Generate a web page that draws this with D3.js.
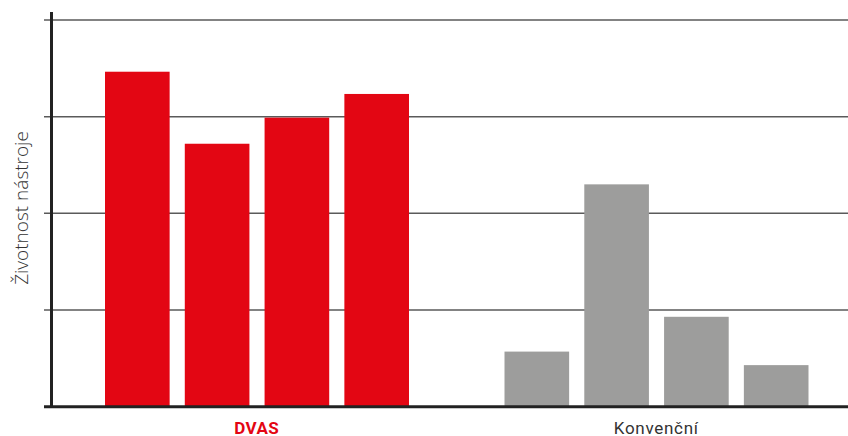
<!DOCTYPE html>
<html><head><meta charset="utf-8">
<script src="https://cdn.jsdelivr.net/npm/d3@7"></script>
<style>body{margin:0;background:#fff}svg{display:block}</style>
</head><body>
<svg id="c" width="848" height="436"></svg>
<script>
const groups = ["DVAS", "Konvenční"];
const dvasValues = [3.465, 2.72, 2.99, 3.235];
const convValues = [0.57, 2.30, 0.93, 0.43];
const yTicks = [0, 1, 2, 3, 4];
const yLabel = "Životnost nástroje";
const colors = {"DVAS": "#e30613", "Konvenční": "#9d9d9c"};
const series = {"DVAS": dvasValues, "Konvenční": convValues};

const svg = d3.select("#c");
const y = d3.scaleLinear().domain([0, 4]).range([406.7, 20]);
const x0 = d3.scaleBand().domain(groups).range([57.5, 856.5]);
const x1 = d3.scaleBand().domain([0,1,2,3]).range([47.5, 351.5]).paddingInner(0.19);

// gridlines
svg.append("g").selectAll("line").data(yTicks.filter(t => t > 0)).join("line")
  .attr("x1", 44).attr("x2", 848)
  .attr("y1", d => y(d)).attr("y2", d => y(d))
  .attr("stroke", "#5a5a5a").attr("stroke-width", 1.5);

// bars
groups.forEach(g => {
  svg.append("g").selectAll("rect").data(series[g]).join("rect")
    .attr("x", (d, i) => x0(g) + x1(i))
    .attr("width", x1.bandwidth())
    .attr("y", d => y(d))
    .attr("height", d => y(0) - y(d))
    .attr("fill", colors[g]);
});

// axes
svg.append("line").attr("x1", 51.5).attr("x2", 51.5).attr("y1", 12).attr("y2", 408)
  .attr("stroke", "#222").attr("stroke-width", 3);
svg.append("line").attr("x1", 44).attr("x2", 848).attr("y1", y(0)).attr("y2", y(0))
  .attr("stroke", "#222").attr("stroke-width", 3);

// group labels
svg.append("g").selectAll("text").data(groups).join("text")
  .attr("x", d => x0(d) + x0.bandwidth()/2 - 0.5)
  .attr("y", 433.5)
  .attr("text-anchor", "middle")
  .attr("font-family", "Roboto, sans-serif")
  .attr("font-size", 17)
  .attr("letter-spacing", d => d === "DVAS" ? 0.4 : 0.7)
  .attr("font-weight", d => d === "DVAS" ? "bold" : "normal")
  .attr("fill", d => d === "DVAS" ? colors.DVAS : "#333")
  .text(d => d);

svg.append("text")
  .attr("transform", "translate(28,208) rotate(-90)")
  .attr("text-anchor", "middle")
  .attr("font-family", "'Open Sans', sans-serif")
  .attr("font-size", 19)
  .attr("font-weight", 300)
  .attr("fill", "#333")
  .text(yLabel);
</script>
</body></html>
